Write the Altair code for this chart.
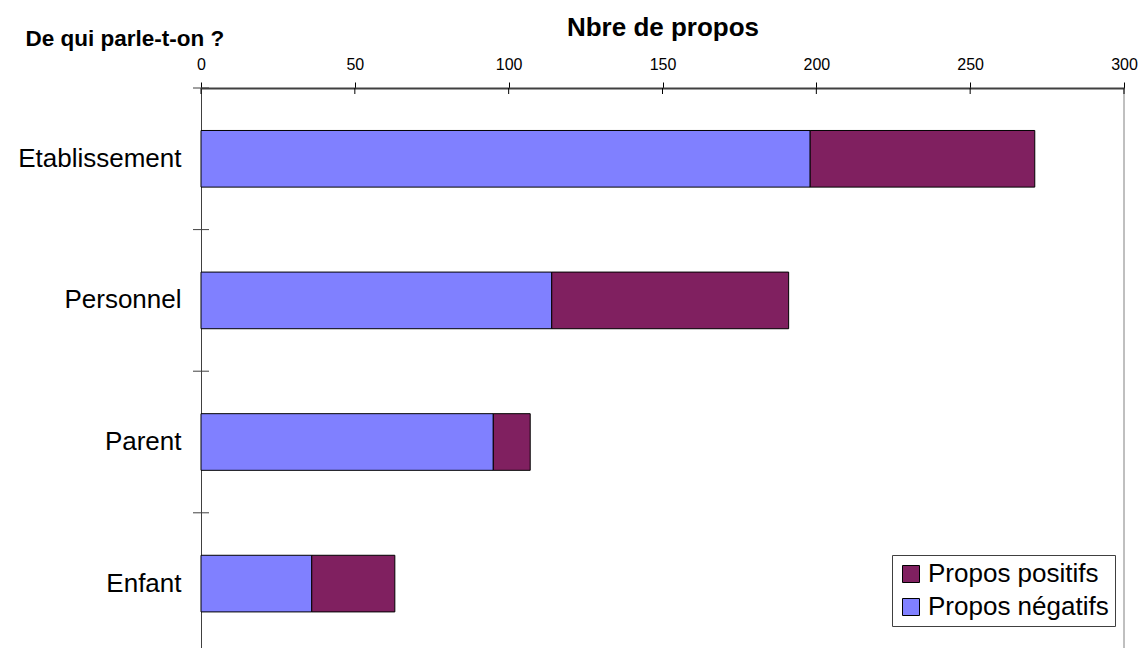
import altair as alt
import pandas as pd

categories = ["Etablissement", "Personnel", "Parent", "Enfant"]
negatifs = [198, 114, 95, 36]
positifs = [73, 77, 12, 27]
series = ["Propos positifs", "Propos négatifs"]
colors = ["#802060", "#8080FF"]
x_ticks = [0, 50, 100, 150, 200, 250, 300]

FONT = "Liberation Sans"

rows = []
for c, n, p in zip(categories, negatifs, positifs):
    rows.append({"categorie": c, "serie": "Propos négatifs", "valeur": n, "ordre": 0})
    rows.append({"categorie": c, "serie": "Propos positifs", "valeur": p, "ordre": 1})
df = pd.DataFrame(rows)
df_xt = pd.DataFrame({"valeur": x_ticks})
df_border = pd.DataFrame({"valeur": [x_ticks[-1]]})
df_yt = pd.DataFrame({"categorie": categories})

PLOT_W = 923
PLOT_H = 560
Y_RANGE = 566.4
P_INNER = 0.6
P_OUTER = 0.3
step = Y_RANGE / (len(categories) - P_INNER + 2 * P_OUTER)

x_scale = alt.Scale(domain=[0, 300], nice=False, zero=True)
x_axis = alt.Axis(
    orient="top", values=x_ticks, title="Nbre de propos",
    titleFont=FONT, titleFontSize=26, titleFontWeight="bold", titleColor="black",
    titleBaseline="alphabetic", titleY=-53,
    labelFont=FONT, labelFontSize=16, labelColor="black", labelBaseline="alphabetic",
    labelPadding=13, labelFlush=False, labelOverlap=False,
    tickSize=6, tickColor="black", tickWidth=1,
    domainColor="#404040", domainWidth=2, grid=False,
)
y_scale = alt.Scale(domain=categories, range=[0, Y_RANGE], paddingInner=P_INNER, paddingOuter=P_OUTER)
y_axis = alt.Axis(
    title="De qui parle-t-on ?", titleAngle=0, titleX=-176, titleY=-43,
    titleAlign="left", titleBaseline="alphabetic",
    titleFont=FONT, titleFontSize=22.5, titleFontWeight="bold", titleColor="black",
    labelFont=FONT, labelFontSize=26, labelColor="black", labelPadding=20,
    ticks=False, tickSize=0, domainColor="#404040", domainWidth=1, grid=False,
)


def xenc(**kw):
    return alt.X("valeur:Q", scale=x_scale, axis=x_axis, **kw)


def yenc(**kw):
    return alt.Y("categorie:N", sort=categories, scale=y_scale, axis=y_axis, **kw)


bars = alt.Chart(df).mark_bar(stroke="black", strokeWidth=1).encode(
    x=xenc(stack="zero"),
    y=yenc(),
    color=alt.Color(
        "serie:N",
        scale=alt.Scale(domain=series, range=colors),
        legend=alt.Legend(
            title=None, orient="none", legendX=691, legendY=467,
            symbolType="square", symbolSize=289, symbolStrokeColor="black",
            symbolStrokeWidth=1, symbolOpacity=1,
            labelFont=FONT, labelFontSize=26, labelColor="black", labelOffset=4,
            rowPadding=7, padding=6, strokeColor="#404040", fillColor="white",
            labelLimit=400,
        ),
    ),
    order=alt.Order("ordre:Q"),
)

x_inner_ticks = alt.Chart(df_xt).mark_rule(color="black", strokeWidth=1).encode(
    x=xenc(), y=alt.value(0), y2=alt.value(6)
)

border = alt.Chart(df_border).mark_rule(color="#808080", strokeWidth=1).encode(
    x=xenc(), y=alt.value(0), y2=alt.value(620)
)

y_ticks = alt.Chart(df_yt).mark_rule(color="#404040", strokeWidth=1, yOffset=-P_OUTER * step).encode(
    y=yenc(bandPosition=0), x=alt.value(-8), x2=alt.value(8)
)

chart = alt.layer(border, bars, x_inner_ticks, y_ticks).properties(
    width=PLOT_W, height=PLOT_H,
    autosize="none",
    padding={"left": 201, "top": 88, "right": 15, "bottom": 0},
    background="white",
).configure_view(stroke=None)

chart.save("out.html", embed_options={"renderer": "svg", "actions": False})
